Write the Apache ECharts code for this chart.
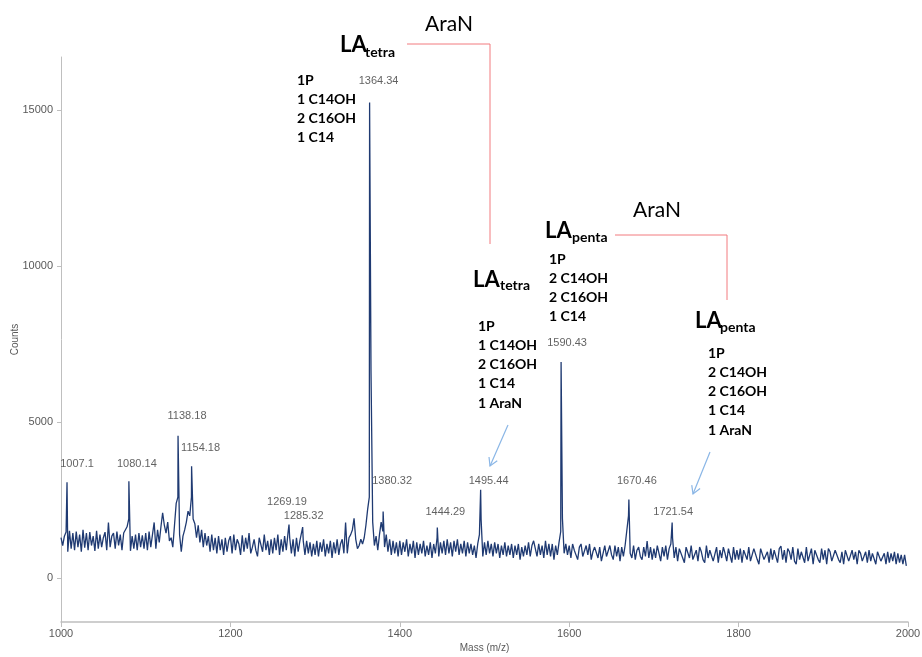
<!DOCTYPE html>
<html>
<head>
<meta charset="utf-8">
<script src="https://cdn.jsdelivr.net/npm/echarts@6/dist/echarts.min.js"></script>
<style>
  html, body { margin: 0; padding: 0; background: #ffffff; }
  #chart { width: 922px; height: 657px; }
</style>
</head>
<body>
<div id="chart"></div>
<script>
// Mass spectrum: baseline scan sampled every 2 m/z from 1000, plus labelled peak apexes.
const scanStart = 1000;
const scanStep = 2;

const counts1000 = [
  1300, 1050, 1350, 1480, 850, 1520, 950, 1450, 900, 1500, 1000, 1400, 850, 1550, 980, 1450, 900, 1480, 1050, 1350, 880, 1520, 950, 1400, 1000,
  1300, 1480, 900, 1790, 1000, 1350, 1450, 950, 1500, 1050, 1400, 900, 1450, 1500, 1650, 1900, 880, 1350, 950, 1400, 900, 1450, 1000, 1380, 950
];
const counts1100 = [
  1450, 900, 1500, 1000, 1400, 1790, 950, 1550, 1150, 1650, 2100, 1700, 1450, 1800, 1200, 1300, 1000, 1700, 2400, 2600, 1400, 850, 1350, 1550, 1800,
  2150, 2000, 2600, 1900, 1750, 1300, 1700, 1150, 1550, 1000, 1450, 1050, 1350, 850, 1400, 900, 1300, 800, 1350, 900, 1250, 750, 1300, 850, 1200
];
const counts1200 = [
  1350, 800, 1400, 900, 1250, 1100, 750, 1380, 850, 1300, 950, 1450, 800, 1000, 1250, 900, 700, 1300, 1350, 850, 1400, 900, 1200, 750, 1250,
  800, 1300, 900, 1400, 750, 1250, 850, 1350, 900, 1450, 1300, 800, 1250, 700, 1300, 850, 1200, 1250, 1200, 750, 1200, 800, 1150, 700, 1100
];
const counts1300 = [
  750, 1200, 700, 1150, 850, 1250, 700, 1100, 800, 1200, 650, 1150, 800, 1250, 750, 1100, 1250, 800, 1790, 800, 1300, 1400, 1550, 1920, 1250,
  950, 1050, 1250, 1100, 1300, 1700, 2200, 2600, 6650, 1800, 1050, 1350, 900, 1400, 1800, 1500, 1000, 1400, 850, 1250, 750, 1200, 800, 1150, 700
];
const counts1400 = [
  1200, 750, 1150, 850, 1250, 700, 1100, 800, 1200, 650, 1150, 750, 1100, 800, 1200, 700, 1050, 750, 1150, 650, 1100, 800, 1300, 700, 1150,
  800, 1200, 750, 1250, 800, 1150, 700, 1200, 850, 1250, 750, 1100, 800, 1200, 700, 1150, 800, 1100, 750, 1050, 650, 1100, 1400, 1880, 700
];
const counts1500 = [
  1150, 750, 1200, 800, 1100, 700, 1150, 800, 1100, 650, 1050, 750, 1150, 700, 1050, 750, 1100, 650, 1050, 750, 1100, 600, 1000, 700, 1050,
  750, 1150, 700, 1050, 1200, 1250, 700, 1100, 750, 1050, 650, 1200, 750, 1100, 700, 1100, 600, 1050, 750, 1150, 1500, 1920, 800, 1100, 750
];
const counts1600 = [
  1050, 650, 1100, 900, 750, 600, 1000, 1100, 700, 650, 1050, 750, 1100, 600, 850, 1000, 1050, 650, 1000, 550, 800, 1050, 700, 650, 1050,
  750, 600, 1050, 700, 1000, 550, 1000, 700, 1050, 1100, 2000, 800, 650, 1050, 600, 900, 1000, 700, 600, 1000, 700, 1190, 650, 1000, 600
];
const counts1700 = [
  950, 650, 1050, 800, 550, 1000, 700, 1050, 600, 950, 1100, 1300, 650, 1000, 550, 950, 900, 650, 500, 1000, 950, 650, 1050, 600, 550,
  900, 550, 1000, 850, 600, 500, 1050, 650, 900, 950, 550, 600, 1000, 500, 900, 650, 1000, 800, 550, 950, 900, 500, 1000, 600, 900
];
const counts1800 = [
  600, 950, 500, 900, 850, 600, 1000, 550, 500, 950, 900, 600, 450, 950, 1000, 600, 550, 850, 500, 950, 600, 900, 850, 500, 950,
  1030, 600, 900, 500, 950, 850, 600, 1000, 550, 450, 950, 600, 850, 900, 500, 1000, 550, 600, 950, 450, 900, 850, 600, 500, 950
];
const counts1900 = [
  600, 900, 450, 950, 850, 550, 500, 900, 950, 600, 500, 850, 450, 900, 850, 550, 500, 900, 600, 850, 450, 900, 800, 550, 500,
  850, 500, 900, 550, 800, 750, 450, 850, 900, 550, 500, 800, 450, 850, 500, 800, 550, 850, 450, 800, 500, 750, 450, 750, 400
];

// Labelled peaks (m/z, apex counts)
const peakMass   = [1007.1, 1080.14, 1138.18, 1154.18, 1269.19, 1285.32, 1364.34, 1380.32, 1444.29, 1495.44, 1590.43, 1670.46, 1721.54];
const peakCounts = [3080,   3110,    4570,    3590,    1720,    1640,    15240,   2140,    1630,    2840,    6930,    2520,    1790];

const massTicks  = [1000, 1200, 1400, 1600, 1800, 2000];
const countTicks = [0, 5000, 10000, 15000];

// Label placement (pixel nudges from each apex)
const peakLabelNudge = [[10,-18],[8,-17],[9,-20],[9,-18],[-2,-23],[1,-11],[9,-22],[9,-31],[8,-15],[8,-9],[6,-19],[8,-19],[1,-10]];

const scan = [].concat(counts1000, counts1100, counts1200, counts1300, counts1400,
                       counts1500, counts1600, counts1700, counts1800, counts1900);
const spectrum = scan.map((c, i) => [scanStart + i * scanStep, c]);
peakMass.forEach((m, i) => spectrum.push([m, peakCounts[i]]));
spectrum.sort((a, b) => a[0] - b[0]);

const ink = '#000000';
const boldFont = 'bold 14px Lato';
const bigFont = 'bold 22px Lato';
const subFont = 'bold 14px Lato';
const araFont = '21px Lato';

function txt(x, y, text, font) {
  return { type: 'text', x: x, y: y, z: 10,
    style: { text: text, font: font, fill: ink, align: 'left', verticalAlign: 'middle' } };
}
function block(x, y0, lines) {
  return lines.map((t, i) => txt(x, y0 + i * 19.3, t, boldFont));
}
function bracket(points) {
  return { type: 'polyline', z: 10, shape: { points: points },
    style: { stroke: '#f27b7e', lineWidth: 1, fill: null } };
}
function arrow(x1, y1, x2, y2) {
  const dx = x2 - x1, dy = y2 - y1, len = Math.hypot(dx, dy);
  const bx = -dx / len, by = -dy / len, h = 9, a = Math.PI / 6;
  const r1 = [x2 + h * (bx * Math.cos(a) - by * Math.sin(a)), y2 + h * (bx * Math.sin(a) + by * Math.cos(a))];
  const r2 = [x2 + h * (bx * Math.cos(-a) - by * Math.sin(-a)), y2 + h * (bx * Math.sin(-a) + by * Math.cos(-a))];
  const st = { stroke: '#8ab6e6', lineWidth: 1.2, fill: null };
  return [
    { type: 'line', z: 10, shape: { x1: x1, y1: y1, x2: x2, y2: y2 }, style: st },
    { type: 'polyline', z: 10, shape: { points: [r1, [x2, y2], r2] }, style: st }
  ];
}

const annotations = [].concat(
  [txt(340, 45, 'LA', bigFont), txt(365, 52.5, 'tetra', subFont), txt(425, 24, 'AraN', araFont)],
  block(297, 80, ['1P', '1 C14OH', '2 C16OH', '1 C14']),
  [bracket([[407, 44], [490, 44], [490, 244]])],
  [txt(473, 280, 'LA', bigFont), txt(500, 285.5, 'tetra', subFont)],
  block(478, 326, ['1P', '1 C14OH', '2 C16OH', '1 C14', '1 AraN']),
  arrow(508, 425, 490, 466),
  [txt(545, 230.5, 'LA', bigFont), txt(572, 237.5, 'penta', subFont), txt(633, 210.5, 'AraN', araFont)],
  block(549, 259, ['1P', '2 C14OH', '2 C16OH', '1 C14']),
  [bracket([[615, 235], [727, 235], [727, 300]])],
  [txt(695, 320.5, 'LA', bigFont), txt(720, 327.5, 'penta', subFont)],
  block(708, 353, ['1P', '2 C14OH', '2 C16OH', '1 C14', '1 AraN']),
  arrow(710, 452, 693, 494)
);

const axisFont = { fontFamily: 'Liberation Sans, Arial, sans-serif', fontSize: 11, color: '#595959' };
const plainNumber = v => String(v);

const chart = echarts.init(document.getElementById('chart'), null, { renderer: 'canvas' });
chart.setOption({
  animation: false,
  backgroundColor: '#ffffff',
  grid: { left: 61, right: 14, top: 57, bottom: 35, containLabel: false, outerBoundsMode: 'none' },
  xAxis: {
    type: 'value', min: massTicks[0], max: massTicks[massTicks.length - 1], interval: 200,
    name: 'Mass (m/z)', nameLocation: 'middle', nameGap: 21, nameMoveOverlap: false,
    nameTextStyle: { fontFamily: 'Liberation Sans, Arial, sans-serif', fontSize: 10, color: '#595959' },
    axisLine: { show: true, onZero: false, lineStyle: { color: '#bfbfbf', width: 1.5 } },
    axisTick: { show: true, length: 5, lineStyle: { color: '#bfbfbf' } },
    axisLabel: Object.assign({ margin: 6, formatter: plainNumber }, axisFont),
    splitLine: { show: false }
  },
  yAxis: {
    type: 'value', min: -1400, max: 16700,
    name: 'Counts', nameLocation: 'middle', nameGap: 41, nameRotate: 90, nameMoveOverlap: false,
    nameTextStyle: { fontFamily: 'Liberation Sans, Arial, sans-serif', fontSize: 10, color: '#595959' },
    axisLine: { show: true, onZero: false, lineStyle: { color: '#bfbfbf' } },
    axisTick: { show: true, length: 4, customValues: countTicks, lineStyle: { color: '#bfbfbf' } },
    axisLabel: Object.assign({ margin: 8, customValues: countTicks, formatter: plainNumber }, axisFont),
    splitLine: { show: false }
  },
  series: [
    {
      type: 'line', data: spectrum, showSymbol: false, symbol: 'none',
      lineStyle: { color: '#1f3a72', width: 1.3 }, z: 2
    },
    {
      type: 'scatter', symbolSize: 0, z: 5,
      data: peakMass.map((m, i) => ({
        value: [m, peakCounts[i]],
        label: { offset: peakLabelNudge[i] }
      })),
      label: {
        show: true, position: 'inside', align: 'center', verticalAlign: 'middle',
        fontFamily: 'Liberation Sans, Arial, sans-serif', fontSize: 11, color: '#3a3a3a',
        formatter: p => String(p.value[0])
      },
      silent: true
    }
  ],
  graphic: annotations
});
</script>
</body>
</html>
